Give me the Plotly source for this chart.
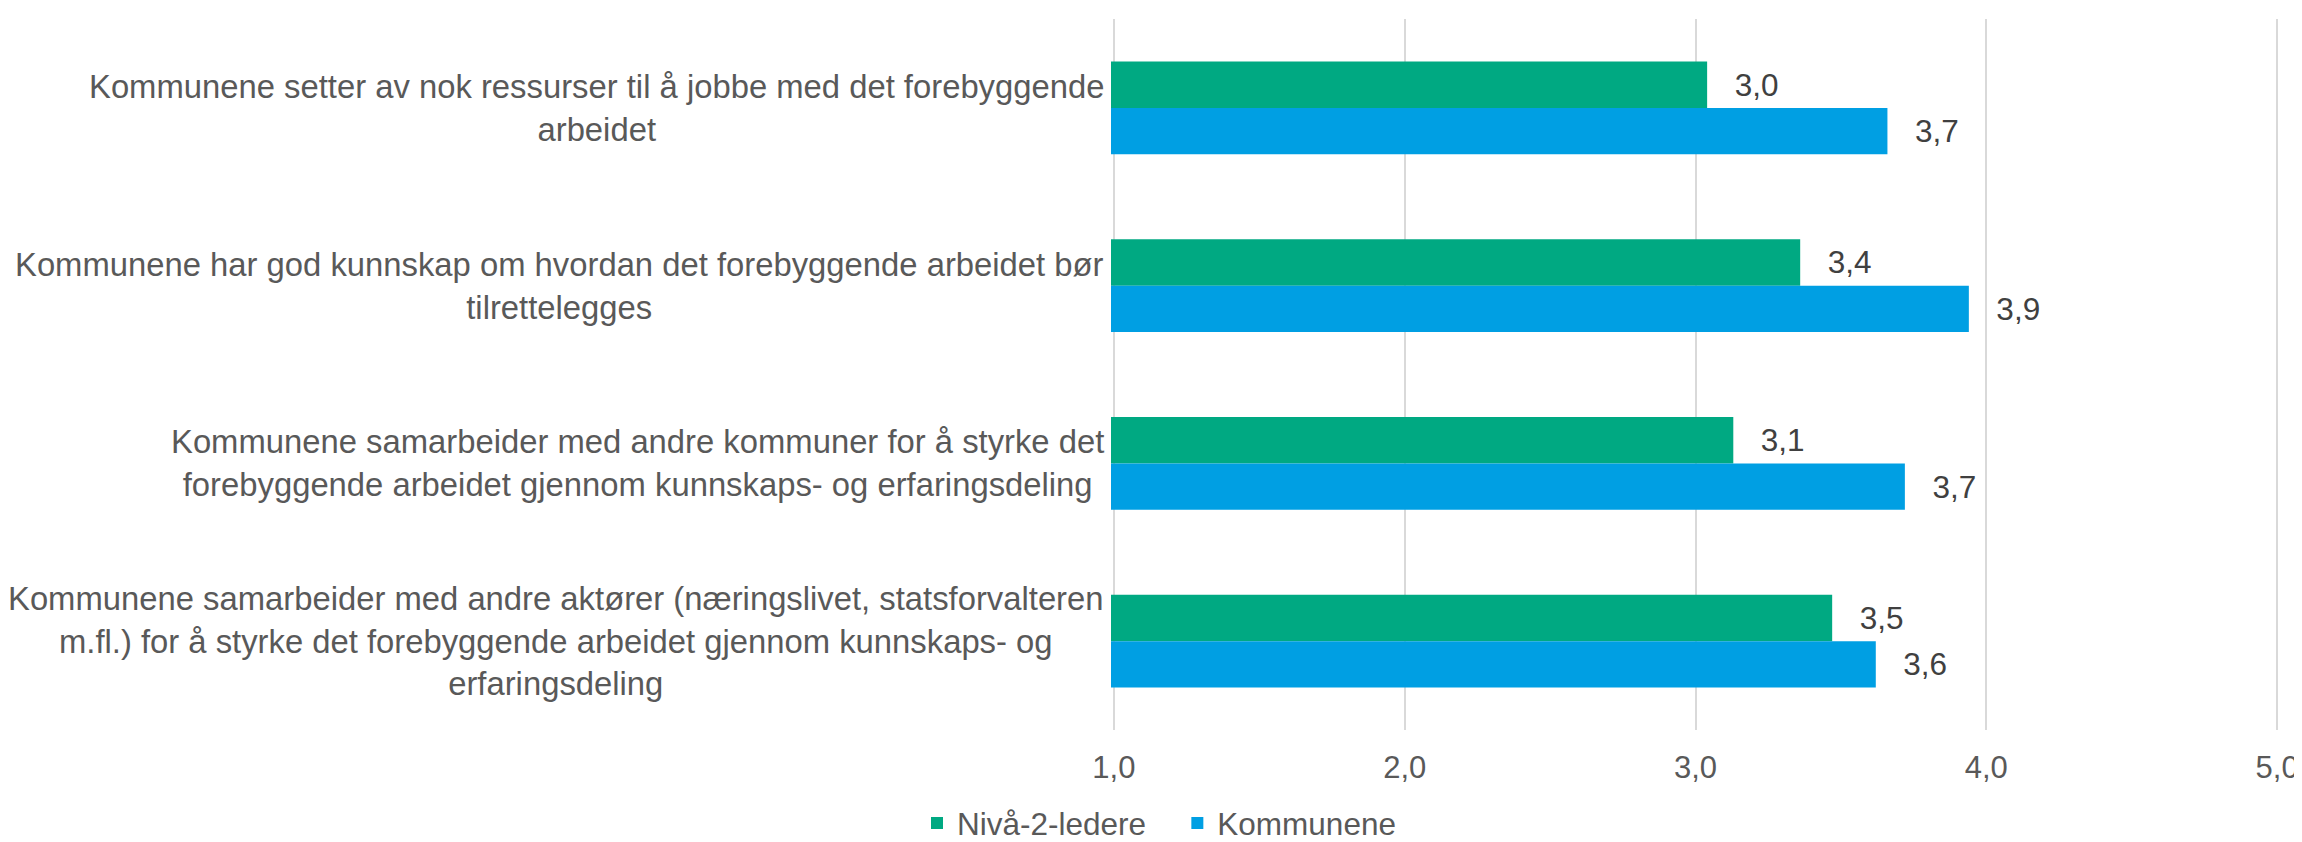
import plotly.graph_objects as go

categories = [
    "Kommunene setter av nok ressurser til å jobbe med det forebyggende<br>arbeidet",
    "Kommunene har god kunnskap om hvordan det forebyggende arbeidet bør<br>tilrettelegges",
    "Kommunene samarbeider med andre kommuner for å styrke det<br>forebyggende arbeidet gjennom kunnskaps- og erfaringsdeling",
    "Kommunene samarbeider med andre aktører (næringslivet, statsforvalteren<br>m.fl.) for å styrke det forebyggende arbeidet gjennom kunnskaps- og<br>erfaringsdeling",
]
keys = ["k1", "k2", "k3", "k4"]
niva2 = [3.04, 3.36, 3.13, 3.47]
kommunene = [3.66, 3.94, 3.72, 3.62]

font = "Liberation Sans, Arial, sans-serif"


def lbl(vals):
    return ["\u2002\u00a0" + f"{v:.1f}".replace(".", ",") for v in vals]


fig = go.Figure()
# trailing nbsp widens the gap between the two legend entries
fig.add_trace(go.Bar(y=keys, x=niva2, orientation="h", name="Nivå-2-ledere\u00a0\u00a0\u00a0",
                     marker=dict(color="#00A982", line=dict(width=0)),
                     text=lbl(niva2), textposition="outside", cliponaxis=False,
                     constraintext="none",
                     textfont=dict(size=31.5, color="#404040", family=font)))
fig.add_trace(go.Bar(y=keys, x=kommunene, orientation="h", name="Kommunene",
                     marker=dict(color="#009FE3", line=dict(width=0)),
                     text=lbl(kommunene), textposition="outside", cliponaxis=False,
                     constraintext="none",
                     textfont=dict(size=31.5, color="#404040", family=font)))

# category labels as centered multi-line annotations
for k, c in zip(keys, categories):
    fig.add_annotation(x=0, xref="paper", y=k, yref="y", text=c, showarrow=False,
                       xanchor="right", xshift=-5, align="center",
                       font=dict(size=32.8, color="#595959", family=font))

fig.update_layout(
    width=2302, height=842,
    margin=dict(l=1103, r=29, t=11, b=111),
    paper_bgcolor="white", plot_bgcolor="white",
    barmode="group", bargap=0.478, bargroupgap=0,
    separators=", ",
    font=dict(family=font, size=31.5, color="#595959"),
    showlegend=True,
    legend=dict(orientation="h", xref="container", x=0.5, xanchor="center",
                yref="container", y=-0.014, yanchor="bottom",
                font=dict(size=31.5, color="#595959"), traceorder="normal",
                itemwidth=30),
)
fig.update_xaxes(range=[0.99, 5.01], tickvals=[1, 2, 3, 4, 5], tickformat=".1f",
                 showgrid=True, gridcolor="#D9D9D9", gridwidth=2,
                 zeroline=False, showline=False, ticks="",
                 ticklabelstandoff=16,
                 tickfont=dict(size=31, color="#595959"))
fig.update_yaxes(autorange="reversed", showticklabels=False, showgrid=False,
                 zeroline=False, showline=False, ticks="")

fig.write_html("out.html")
